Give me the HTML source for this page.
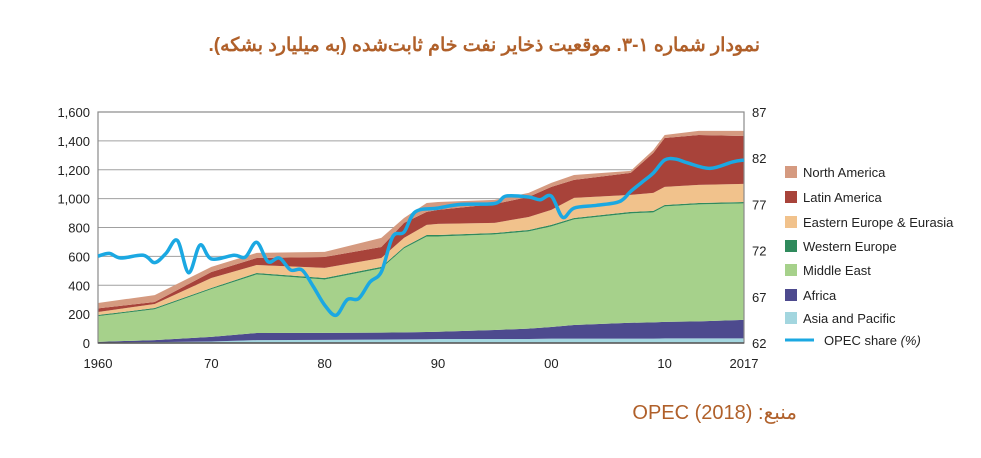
<!DOCTYPE html>
<html><head><meta charset="utf-8">
<style>
html,body{margin:0;padding:0;background:#fff;width:981px;height:458px;overflow:hidden;position:relative}
svg text{font-family:"Liberation Sans",sans-serif}
.t{font-family:"Liberation Sans","Noto Sans CJK SC",sans-serif;color:#b0602a;position:absolute;direction:rtl;white-space:nowrap}
</style></head><body>
<div class="t" style="right:221px;top:34px;font-size:19px;font-weight:bold">نمودار شماره ۱-۳. موقعیت ذخایر نفت خام ثابت‌شده (به میلیارد بشکه).</div>
<div class="t" style="right:184px;top:400px;font-size:20px">منبع: OPEC (2018)</div>
<svg id="c" width="981" height="458" xmlns="http://www.w3.org/2000/svg" style="position:absolute;left:0;top:0">
<g id="plot"></g>
<g id="axes"></g>
<g id="legend"></g>
</svg>
<script>
const years=[1960,1965,1970,1974,1980,1985,1987,1989,1990,1995,1998,2000,2002,2007,2009,2010,2013,2017];
const asia=[3,6,10,20,22,24,25,26,28,28,28,30,30,30,30,32,32,32];
const africa=[5,14,32,49,48,48,49,50,50,62,72,81,95,110,113,114,118,128];
const middleEast=[178,214,331,406,370,445,581,662,660,662,673,697,731,758,762,800,810,807];
const westEurope=[8,8,8,10,10,10,10,10,10,10,10,10,10,10,10,10,10,10];
const eastEurope=[21,28,69,55,70,62,63,70,77,70,90,104,139,118,125,125,125,125];
const latinAmerica=[25,14,42,49,76,76,104,90,97,131,139,159,125,152,277,339,346,332];
const northAmerica=[37,48,35,35,35,63,34,62,55,28,28,28,34,14,20,21,28,35];
const shareYears=[1960,1961,1962,1964,1965,1966,1967,1968,1969,1970,1972,1973,1974,1975,1976,1977,1978,1979,1980,1981,1982,1983,1984,1985,1986,1987,1988,1990,1992,1995,1996,1998,1999,2000,2001,2002,2004,2006,2007,2008,2009,2010,2011,2012,2014,2016,2017];
const opecShare=[71.4,71.7,71.2,71.5,70.7,71.7,73.1,69.6,72.6,71.1,71.5,71.3,72.9,70.8,71.2,69.9,69.9,68.1,66.1,65.0,66.7,66.8,68.6,69.7,73.5,74.0,76.2,76.6,77.0,77.1,77.9,77.8,77.5,77.9,75.6,76.6,76.9,77.3,78.4,79.4,80.4,81.8,81.9,81.5,80.9,81.6,81.8];
const leftTicks=[0,200,400,600,800,1000,1200,1400,1600];
const rightTicks=[62,67,72,77,82,87];
const xTicks=[1960,1970,1980,1990,2000,2010,2017];
const xTickLabels=["1960","70","80","90","00","10","2017"];
const series=[
 {name:"Asia and Pacific",vals:asia,color:"#a3d6df"},
 {name:"Africa",vals:africa,color:"#4d4a8e"},
 {name:"Middle East",vals:middleEast,color:"#a6d18b"},
 {name:"Western Europe",vals:westEurope,color:"#2f8a5c"},
 {name:"Eastern Europe & Eurasia",vals:eastEurope,color:"#f1c28c"},
 {name:"Latin America",vals:latinAmerica,color:"#a8433a"},
 {name:"North America",vals:northAmerica,color:"#d59a80"}];
const L=98,R=744,T=112,B=343;
const X=y=>L+(y-1960)/(57)*(R-L);
const Y=v=>B-v/1600*(B-T);
const Y2=v=>B-(v-62)/25*(B-T);
const NS="http://www.w3.org/2000/svg";
function mk(t,a,p){const e=document.createElementNS(NS,t);for(const k in a)e.setAttribute(k,a[k]);p.appendChild(e);return e;}
const plot=document.getElementById('plot'),axes=document.getElementById('axes'),leg=document.getElementById('legend');
leftTicks.forEach(v=>{const g=mk('line',{x1:L,x2:R,y1:Y(v),y2:Y(v),stroke:'#a0a0a0','stroke-width':1},plot);

});
let base=years.map(()=>0);
series.forEach(s=>{
 const top=base.map((b,i)=>b+s.vals[i]);
 let d='M'+years.map((y,i)=>X(y)+','+Y(top[i])).join('L');
 for(let i=years.length-1;i>=0;i--)d+='L'+X(years[i])+','+Y(base[i]);
 const p=mk('path',{d:d+'Z',fill:s.color},plot);
 
 
 base=top;});
const fr=mk('rect',{x:L,y:T,width:R-L,height:B-T,fill:'none',stroke:'#8a8a8a','stroke-width':1.2},plot);


const bl=mk('line',{x1:L,x2:R,y1:B,y2:B,stroke:'#555','stroke-width':1.5},plot);


const pts=shareYears.map((y,i)=>[X(y),Y2(opecShare[i])]);
let d='M'+pts[0][0]+','+pts[0][1];
for(let i=0;i<pts.length-1;i++){const p0=pts[Math.max(0,i-1)],p1=pts[i],p2=pts[i+1],p3=pts[Math.min(pts.length-1,i+2)];
 d+='C'+(p1[0]+(p2[0]-p0[0])/6)+','+(p1[1]+(p2[1]-p0[1])/6)+' '+(p2[0]-(p3[0]-p1[0])/6)+','+(p2[1]-(p3[1]-p1[1])/6)+' '+p2[0]+','+p2[1];}
const ol=mk('path',{d:d,fill:'none',stroke:'#1ba8e2','stroke-width':3.5,'stroke-linejoin':'round'},plot);


leftTicks.forEach(v=>{const t=mk('text',{x:90,y:Y(v)+5,'text-anchor':'end','font-size':13,fill:'#222'},axes);t.textContent=v.toLocaleString('en-US');

});
rightTicks.forEach(v=>{const t=mk('text',{x:752,y:Y2(v)+5,'font-size':13,fill:'#222'},axes);t.textContent=v;

});
xTicks.forEach((v,i)=>{const t=mk('text',{x:X(v),y:368,'text-anchor':'middle','font-size':13,fill:'#222'},axes);t.textContent=xTickLabels[i];

});
const order=[6,5,4,3,2,1,0],ly=[172,197,222,246,270,295,318];
order.forEach((si,k)=>{const s=series[si];
 const g=mk('g',{},leg);
 
 
 mk('rect',{x:785,y:ly[k]-6,width:12,height:12,fill:s.color},g);
 const t=mk('text',{x:803,y:ly[k]+5,'font-size':13,fill:'#222'},g);t.textContent=s.name;});
const g=mk('g',{},leg);


mk('line',{x1:785,x2:814,y1:340,y2:340,stroke:'#1ba8e2','stroke-width':3},g);
const t=mk('text',{x:824,y:345,'font-size':13,fill:'#222'},g);t.innerHTML='OPEC share <tspan font-style="italic">(%)</tspan>';
</script>
</body></html>
